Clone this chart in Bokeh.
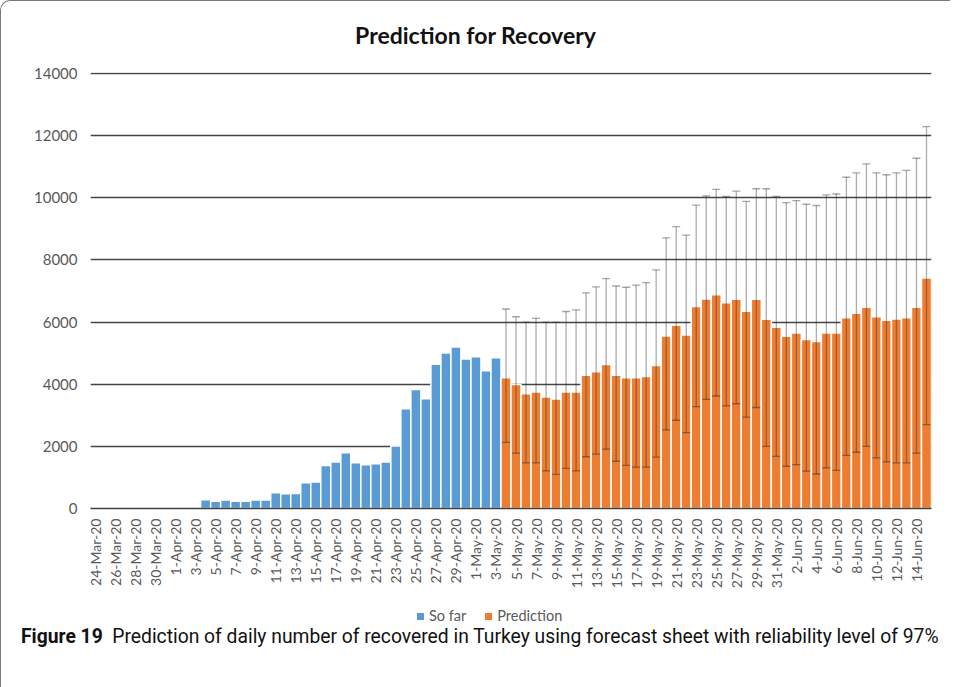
import math
import pandas as pd
from bokeh.plotting import figure
from bokeh.layouts import column
from bokeh.models import Range1d, FixedTicker, NumeralTickFormatter, Div
from bokeh.embed import file_html
from bokeh.resources import INLINE

# ---------------- data ----------------
dates = [f"{d.day}-{d.strftime('%b')}-20" for d in pd.date_range("2020-03-24", "2020-06-15")]
n_obs = 41  # 24-Mar .. 3-May observed ("So far")

so_far = [0, 0, 0, 0, 0, 0, 0, 0, 0, 0, 0,
          280, 230, 270, 230, 235, 275, 270, 510, 475, 480, 825, 855,
          1380, 1500, 1790, 1470, 1410, 1440, 1500, 2010,
          3210, 3830, 3530, 4640, 5000, 5200, 4810,
          4880, 4430, 4850]

prediction = [4210, 3990, 3690, 3750, 3590, 3520, 3750, 3750, 4290, 4400,
              4630, 4290, 4210, 4210, 4250, 4600, 5550, 5900, 5580, 6500,
              6740, 6880, 6620, 6730, 6350, 6730, 6090, 5830,
              5540, 5650, 5440, 5370, 5650, 5650, 6140, 6280, 6480, 6170,
              6060, 6100, 6140, 6480, 7420]

lower = [2130, 1780, 1470, 1470, 1210, 1100, 1290, 1210, 1665, 1750,
         1910, 1520, 1390, 1330, 1330, 1655, 2530, 2840, 2440, 3280,
         3510, 3620, 3305, 3370, 2940, 3250, 2000, 1680,
         1360, 1410, 1200, 1110, 1305, 1230, 1710, 1810, 2000, 1630,
         1500, 1470, 1470, 1780, 2700]

upper = [6420, 6170, 6000, 6120, 6000, 6000, 6340, 6390, 6940, 7130,
         7400, 7160, 7120, 7190, 7270, 7680, 8710, 9070, 8800, 9760,
         10060, 10270, 10040, 10210, 9880, 10290, 10290, 10040,
         9840, 9910, 9790, 9750, 10090, 10120, 10660, 10800, 11090, 10800,
         10740, 10800, 10880, 11270, 12290]

y_ticks = [0, 2000, 4000, 6000, 8000, 10000, 12000, 14000]

title_text = "Prediction for Recovery"
series_names = ["So far", "Prediction"]
series_colors = ["#5b9bd5", "#ed7d31"]
caption_bold = "Figure 19"
caption_text = ("Prediction of daily number of recovered in Turkey using forecast sheet "
                "with reliability level of 97%")

# positions of the categories on the axis
pos = list(range(len(dates)))
obs_pos = pos[:n_obs]
pred_pos = pos[n_obs:]

# ---------------- figure ----------------
FONT = "Lato"
p = figure(width=939, height=540, x_range=Range1d(-0.5, len(dates) - 0.5),
           y_range=Range1d(0, 14030), output_backend="svg", toolbar_location=None,
           min_border_left=89, min_border_right=9, min_border_top=14, min_border_bottom=90,
           outline_line_color=None, background_fill_color="white", border_fill_color="white")

p.vbar(x=obs_pos, top=so_far, width=1.0, fill_color=series_colors[0],
       line_color="white", line_width=1.5)
p.vbar(x=pred_pos, top=prediction, width=1.0, fill_color=series_colors[1],
       line_color="white", line_width=1.5)

# error bars
p.segment(x0=pred_pos, y0=lower, x1=pred_pos, y1=upper,
          line_color="#262626", line_alpha=0.38, line_width=1.3)
p.scatter(x=pred_pos, y=upper, marker="dash", size=8,
          line_color="#262626", line_alpha=0.4, line_width=1.3)
p.scatter(x=pred_pos, y=lower, marker="dash", size=8,
          line_color="#262626", line_alpha=0.45, line_width=1.3)

# grid
p.xgrid.grid_line_color = None
p.ygrid.ticker = FixedTicker(ticks=y_ticks[1:])
p.ygrid.grid_line_color = "#454545"
p.ygrid.grid_line_width = 1.6

# y axis
p.yaxis.ticker = FixedTicker(ticks=y_ticks)
p.yaxis.formatter = NumeralTickFormatter(format="0")
p.yaxis.axis_line_color = None
p.yaxis.major_tick_line_color = None
p.yaxis.minor_tick_line_color = None
p.yaxis.major_tick_out = 0
p.yaxis.minor_tick_out = 0
p.yaxis.major_label_standoff = 13
p.yaxis.major_label_text_font = FONT
p.yaxis.major_label_text_font_size = "15px"
p.yaxis.major_label_text_color = "#595959"

# x axis: every second date labelled
p.xaxis.ticker = FixedTicker(ticks=pos[::2])
p.xaxis.major_label_overrides = {i: dates[i] for i in pos[::2]}
p.xaxis.axis_line_color = "#404040"
p.xaxis.axis_line_width = 1.6
p.xaxis.major_tick_line_color = None
p.xaxis.minor_tick_line_color = None
p.xaxis.major_tick_out = 0
p.xaxis.minor_tick_out = 0
p.xaxis.major_label_orientation = math.pi / 2
p.xaxis.major_label_standoff = 10
p.xaxis.major_label_text_font = FONT
p.xaxis.major_label_text_font_size = "14px"
p.xaxis.major_label_text_color = "#595959"

# ---------------- title, legend and caption as HTML ----------------
title_div = Div(width=939, height=47, text=(
    f'<div style="margin-top:15px;width:939px;text-align:center;font-family:Lato;'
    f'font-weight:bold;font-size:23px;line-height:28px;color:#111;">{title_text}</div>'))

sq = ('display:inline-block;width:7px;height:7px;vertical-align:middle;'
      'position:relative;top:-1px;background:{c};margin-right:5px;')
bottom_html = (
    f'<div style="position:relative;left:411px;top:3px;white-space:nowrap;font-family:Lato;'
    f'font-size:14.5px;line-height:20px;color:#595959;">'
    f'<span style="{sq.format(c=series_colors[0])}"></span>{series_names[0]}'
    f'<span style="margin-left:19px;{sq.format(c=series_colors[1])}"></span>{series_names[1]}'
    f'</div>'
    f'<div style="position:relative;left:15px;top:2px;white-space:nowrap;font-family:Roboto;'
    f'font-size:19.3px;line-height:24px;color:#111;">'
    f'<b>{caption_bold}</b>&nbsp;&nbsp;{caption_text}</div>')
bottom_div = Div(width=939, height=84, text=bottom_html)

layout = column(title_div, p, bottom_div, spacing=0,
                styles={"border-left": "1.5px solid #7a7a7a", "border-top": "1.5px solid #7a7a7a",
                        "border-top-left-radius": "10px"})

open("out.html", "w").write(file_html(layout, INLINE))
